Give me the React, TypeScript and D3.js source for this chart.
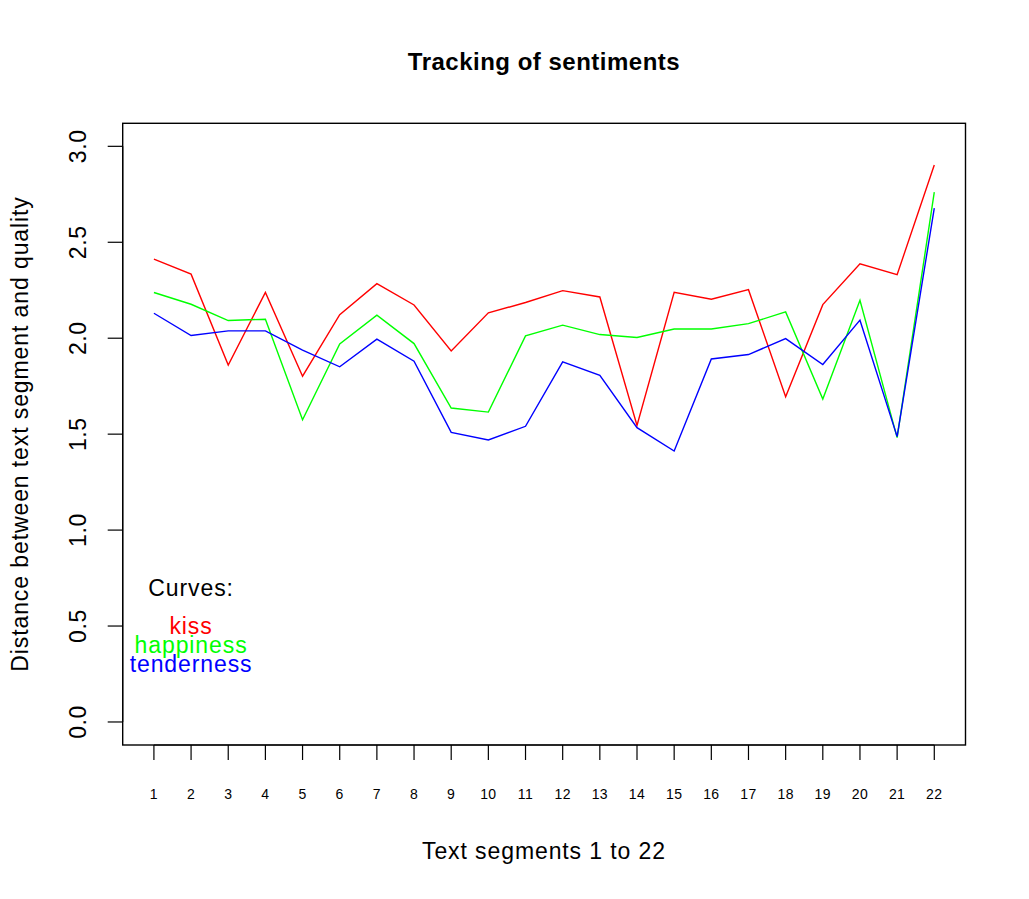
import React from "react";
import * as d3 from "d3";

const segments = d3.range(1, 23);
const kiss = [2.412, 2.334, 1.86, 2.239, 1.802, 2.123, 2.284, 2.173, 1.934, 2.132, 2.186, 2.248, 2.215, 1.546, 2.239, 2.203, 2.253, 1.695, 2.175, 2.388, 2.331, 2.903];
const happiness = [2.238, 2.177, 2.092, 2.099, 1.575, 1.97, 2.12, 1.972, 1.636, 1.615, 2.012, 2.068, 2.019, 2.004, 2.048, 2.048, 2.076, 2.137, 1.683, 2.198, 1.482, 2.761];
const tenderness = [2.13, 2.014, 2.038, 2.038, 1.938, 1.851, 1.995, 1.88, 1.509, 1.47, 1.541, 1.877, 1.806, 1.534, 1.412, 1.892, 1.915, 1.998, 1.863, 2.094, 1.487, 2.678];
const yTicks = [0, 0.5, 1, 1.5, 2, 2.5, 3];
const legendLabels = ["Curves:", "kiss", "happiness", "tenderness"];
const legendColors = ["#000000", "#ff0000", "#00ff00", "#0000ff"];
const legendY = [0.7, 0.5, 0.4, 0.3];
const legendX = 2;

const series = [
  { name: "kiss", values: kiss, color: "#ff0000" },
  { name: "happiness", values: happiness, color: "#00ff00" },
  { name: "tenderness", values: tenderness, color: "#0000ff" },
];

const W = 1029, H = 899;
const left = 122.7, right = 965.5, top = 123.3, bottom = 745;
const font = "Liberation Sans, Arial, Helvetica, sans-serif";
const fs = 23;
const ls = 0.9;

export default function App() {
  const x = d3.scaleLinear().domain([1 - 0.84, 22 + 0.84]).range([left, right]);
  const y = d3.scaleLinear().domain([-0.12, 3.12]).range([bottom, top]);
  const line = d3.line<number>().x((_, i) => x(segments[i])).y((d) => y(d));

  return (
    <svg width={W} height={H} style={{ position: "absolute", left: 0, top: 0, background: "#fff" }}>
      <rect x={0} y={0} width={W} height={H} fill="#fff" />
      <text x={544} y={70} textAnchor="middle" fontFamily={font} fontWeight="bold" fontSize={24} fill="#000" letterSpacing={0.5}>
        Tracking of sentiments
      </text>
      {series.map((s) => (
        <path key={s.name} d={line(s.values) || ""} fill="none" stroke={s.color} strokeWidth={1.4} />
      ))}
      <rect x={left} y={top} width={right - left} height={bottom - top} fill="none" stroke="#000" strokeWidth={1.4} />
      {/* x axis */}
      <line x1={x(1)} x2={x(22)} y1={bottom} y2={bottom} stroke="#000" strokeWidth={1.2} />
      {segments.map((s) => (
        <g key={s}>
          <line x1={x(s)} x2={x(s)} y1={bottom} y2={bottom + 15} stroke="#000" strokeWidth={1.2} />
          <text x={x(s)} y={799} textAnchor="middle" fontFamily={font} fontSize={14} fill="#000" letterSpacing={0.4}>
            {s}
          </text>
        </g>
      ))}
      <text x={544} y={859} textAnchor="middle" fontFamily={font} fontSize={fs} fill="#000" letterSpacing={ls}>
        Text segments 1 to 22
      </text>
      {/* y axis */}
      {yTicks.map((t) => (
        <g key={t}>
          <line x1={left - 15} x2={left} y1={y(t)} y2={y(t)} stroke="#000" strokeWidth={1.2} />
          <text
            transform={`translate(86,${y(t)}) rotate(-90)`}
            textAnchor="middle"
            fontFamily={font}
            fontSize={fs}
            fill="#000"
            letterSpacing={0.6}
          >
            {t.toFixed(1)}
          </text>
        </g>
      ))}
      <line x1={left} x2={left} y1={y(0)} y2={y(3)} stroke="#000" strokeWidth={1.2} />
      <text
        transform={`translate(28,${434}) rotate(-90)`}
        textAnchor="middle"
        fontFamily={font}
        fontSize={fs}
        fill="#000"
        letterSpacing={ls}
      >
        Distance between text segment and quality
      </text>
      {legendLabels.map((l, i) => (
        <text
          key={l}
          x={x(legendX)}
          y={y(legendY[i])}
          dy="0.35em"
          textAnchor="middle"
          fontFamily={font}
          fontSize={fs}
          fill={legendColors[i]}
          letterSpacing={ls}
        >
          {l}
        </text>
      ))}
    </svg>
  );
}
